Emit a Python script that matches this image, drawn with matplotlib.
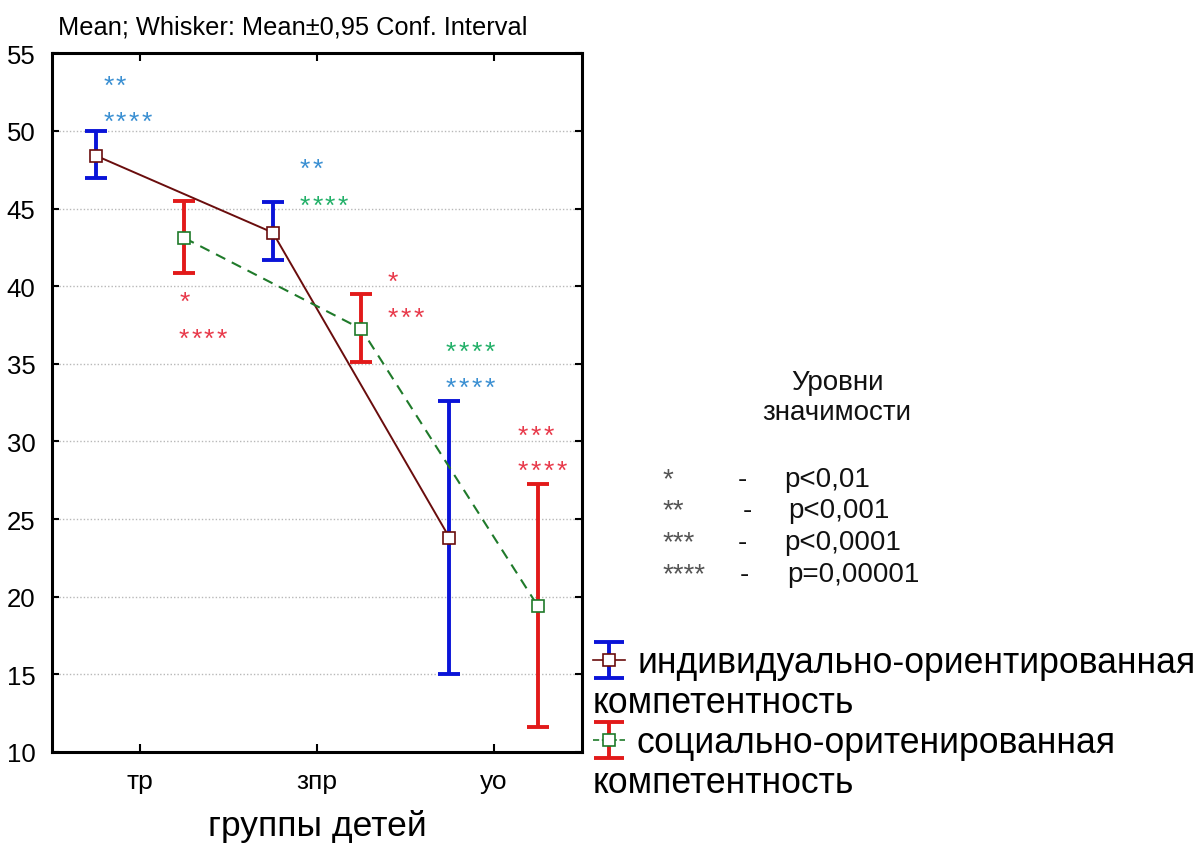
import matplotlib
matplotlib.use("Agg")
import matplotlib.pyplot as plt
import matplotlib.transforms as mtransforms
import numpy as np

plt.rcParams['font.family'] = ['Liberation Sans', 'DejaVu Sans']

# ---------------- data ----------------
groups = ["тр", "зпр", "уо"]
ind_mean = [48.4, 43.45, 23.8]
ind_low = [47.0, 41.7, 15.05]
ind_high = [50.0, 45.4, 32.6]
soc_mean = [43.1, 37.25, 19.4]
soc_low = [40.85, 35.1, 11.6]
soc_high = [45.5, 39.5, 27.25]
series_labels = ["индивидуально-ориентированная", "социально-оритенированная"]
series_label2 = "компетентность"

# significance annotations
ann_group = [0, 0, 1, 1, 0, 0, 1, 1, 2, 2, 2, 2]
ann_y = [53.3, 51.0, 47.95, 45.6, 39.4, 37.0, 40.7, 38.4, 36.2, 33.9, 30.75, 28.5]
ann_text = ["**", "****", "**", "****", "*", "****", "*", "***", "****", "****", "***", "****"]
ann_col = ["b", "b", "b", "g", "r", "r", "r", "r", "g", "b", "r", "r"]
ann_off = [-0.21, -0.21, -0.10, -0.10, 0.22, 0.215, 0.40, 0.40, -0.27, -0.27, 0.136, 0.136]

key_stars = ["*", "**", "***", "****"]
key_p = ["p<0,01", "p<0,001", "p<0,0001", "p=0,00001"]

# ---------------- style ----------------
W, H = 1198, 845
fig = plt.figure(figsize=(W / 100, H / 100), dpi=100)
fig.patch.set_facecolor("white")

def fx(px):
    return px / W

def fy(py):
    return 1 - py / H

ax = fig.add_axes([fx(52), fy(753), fx(582) - fx(52), fy(54.3) - fy(753)])

BLUE = "#0a14d8"
RED = "#e21a1a"
BROWN = "#6a0d0d"
GREEN = "#1f7a2a"
ANN = {"b": "#3a8fd2", "g": "#22b068", "r": "#e8394a"}

x = np.arange(len(groups))
xi = x - 0.25
xs = x + 0.25

im = np.array(ind_mean)
sm = np.array(soc_mean)
ind_err = [im - np.array(ind_low), np.array(ind_high) - im]
soc_err = [sm - np.array(soc_low), np.array(soc_high) - sm]

ax.errorbar(xi, im, yerr=ind_err, fmt="none", ecolor=BLUE, elinewidth=2.8,
            capsize=8, capthick=2.8, zorder=3)
ax.errorbar(xs, sm, yerr=soc_err, fmt="none", ecolor=RED, elinewidth=2.8,
            capsize=8, capthick=2.8, zorder=3)
ax.plot(xi, im, color=BROWN, lw=1.4, zorder=4)
ax.plot(xs, sm, color=GREEN, lw=1.5, ls=(0, (5, 3.5)), zorder=4)
ax.plot(xi, im, ls="none", marker="s", ms=9, mfc="white", mec=BROWN, mew=1.2, zorder=5)
ax.plot(xs, sm, ls="none", marker="s", ms=9, mfc="white", mec=GREEN, mew=1.2, zorder=5)

# stars drawn one by one with a fixed pitch (in pixels) so they are spaced as in the original
PITCH_PX = 12.8
for g, o, yv, t, c in zip(ann_group, ann_off, ann_y, ann_text, ann_col):
    for i, ch in enumerate(t):
        tr = mtransforms.offset_copy(ax.transData, fig=fig, x=i * PITCH_PX * 0.72,
                                     y=-4 * 0.72, units="points")
        ax.text(g + o, yv, ch, color=ANN[c], fontsize=19, ha="left",
                va="center_baseline", zorder=6, transform=tr)

ax.set_xlim(-0.5, 2.5)
ax.set_ylim(10, 55)
ax.set_yticks(np.arange(10, 56, 5))
ax.set_xticks(x)
ax.set_xticklabels(groups, fontsize=19)
ax.tick_params(axis="y", labelsize=18.5, direction="in", right=True, length=5, width=1.5, pad=12)
ax.tick_params(axis="x", direction="in", top=True, length=6, width=1.5, pad=12)
ax.grid(axis="y", color="#b8b8b8", ls=(0, (1, 1.5)), lw=1.0)
ax.set_axisbelow(True)
for s in ax.spines.values():
    s.set_linewidth(2.2)
ax.set_xlabel("группы детей", fontsize=25.5, labelpad=12)

fig.text(fx(58), fy(28), "Mean; Whisker: Mean±0,95 Conf. Interval", fontsize=18.3,
         ha="left", va="center")

# significance key
fig.text(fx(837), fy(383), "Уровни", fontsize=20, ha="center", va="center", color="#111111")
fig.text(fx(837), fy(413), "значимости", fontsize=20, ha="center", va="center", color="#111111")
row_base = [487, 518, 550, 582]
dash_x = [742, 747, 742, 744]
p_x = [784, 788, 784, 787]
for st, p, yb, dx, px in zip(key_stars, key_p, row_base, dash_x, p_x):
    fig.text(fx(663), fy(yb), st, fontsize=20, ha="left", va="baseline", color="#555555")
    fig.text(fx(dx), fy(yb), "-", fontsize=20, ha="center", va="baseline", color="#111111")
    fig.text(fx(px), fy(yb), p, fontsize=20, ha="left", va="baseline", color="#111111")

# series legend (manual)
icons = [(BLUE, BROWN, "-", 661), (RED, GREEN, "--", 741)]
for (ec, lc, lstyle, cy), lab, base in zip(icons, series_labels, [673, 753]):
    iax = fig.add_axes([fx(591), fy(cy + 20), fx(36), fy(0) - fy(40)])
    iax.set_xlim(-1, 1)
    iax.set_ylim(-1, 1)
    iax.axis("off")
    iax.errorbar([0], [0], yerr=[[0.9], [0.9]], fmt="none", ecolor=ec, elinewidth=2.8,
                 capsize=11, capthick=2.8)
    iax.plot([-0.9, 0.9], [0, 0], color=lc, lw=1.2, ls=lstyle)
    iax.plot([0], [0], marker="s", ms=8, mfc="white", mec=lc, mew=1.2, ls="none")
    fig.text(fx(637), fy(base), lab, fontsize=25.6, ha="left", va="baseline")
    fig.text(fx(593), fy(base + 40), series_label2, fontsize=25.6, ha="left", va="baseline")

fig.savefig("out.png", dpi=100, facecolor="white")
